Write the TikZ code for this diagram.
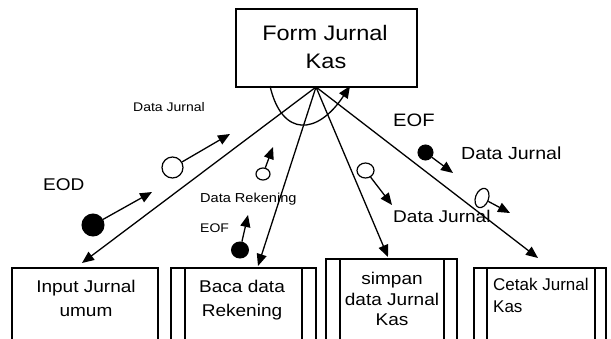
\documentclass[tikz,border=0pt]{standalone}
\usepackage{fontspec}
\setmainfont{Liberation Sans}
\newfontfamily\wfont[FakeStretch=1.12]{Liberation Sans}
\newfontfamily\nfont{Liberation Sans}
\usetikzlibrary{arrows.meta,shapes.geometric,calc}
\begin{document}
\begin{tikzpicture}[x=1pt,y=-1pt,
  box/.style={draw,line width=1.5pt,inner sep=0pt,outer sep=0pt},
  conn/.style={line width=1.3pt,-{Triangle[length=12pt,width=10pt]}},
  cpl/.style={line width=1.3pt,-{Triangle[length=12pt,width=10pt]}},
  opencpl/.style={ellipse,draw,line width=1.2pt,fill=white,inner sep=0pt},
  fullcpl/.style={ellipse,draw,fill=black,line width=1pt,inner sep=0pt},
  lbl/.style={anchor=base,inner sep=0pt},
  lblw/.style={anchor=base west,inner sep=0pt}]
\useasboundingbox (0,0) rectangle (611,338);
\clip (0,0) rectangle (611,338);
% boxes
\node[box,minimum width=181pt,minimum height=78pt] (form) at (326.5,48) {};
\node[box,anchor=north west,minimum width=146pt,minimum height=90pt] (inp) at (12,268) {};
\node[box,anchor=north west,minimum width=145pt,minimum height=90pt] (baca) at (171,268) {};
\node[box,anchor=north west,minimum width=131pt,minimum height=100pt] (simp) at (326,259) {};
\node[box,anchor=north west,minimum width=132pt,minimum height=90pt] (cetak) at (474,268) {};
\draw[line width=1.5pt] ($(baca.north west)+(14,0)$) -- ($(baca.south west)+(14,0)$);
\draw[line width=1.5pt] ($(baca.north east)+(-14,0)$) -- ($(baca.south east)+(-14,0)$);
\draw[line width=1.5pt] ($(simp.north west)+(14,0)$) -- ($(simp.south west)+(14,0)$);
\draw[line width=1.5pt] ($(simp.north east)+(-13,0)$) -- ($(simp.south east)+(-13,0)$);
\draw[line width=1.5pt] ($(cetak.north west)+(13,0)$) -- ($(cetak.south west)+(13,0)$);
\draw[line width=1.5pt] ($(cetak.north east)+(-11,0)$) -- ($(cetak.south east)+(-11,0)$);
% texts in boxes
\node[lbl,font=\wfont\fontsize{21}{25}\selectfont] (t1) at (325,40) {Form Jurnal};
\node[lbl,font=\wfont\fontsize{21}{25}\selectfont] (t2) at (326,68) {Kas};
\node[lbl,font=\wfont\fontsize{17}{20}\selectfont] (t3) at (86,292) {Input Jurnal};
\node[lbl,font=\wfont\fontsize{17}{20}\selectfont] (t4) at (86,316) {umum};
\node[lbl,font=\wfont\fontsize{17}{20}\selectfont] (t5) at (242,292) {Baca data};
\node[lbl,font=\wfont\fontsize{17}{20}\selectfont] (t6) at (242,316) {Rekening};
\node[lbl,font=\wfont\fontsize{17}{20}\selectfont] (t7) at (392,284) {simpan};
\node[lbl,font=\wfont\fontsize{17}{20}\selectfont] (t8) at (392,305) {data Jurnal};
\node[lbl,font=\wfont\fontsize{17}{20}\selectfont] (t9) at (392,325) {Kas};
\node[lblw,font=\nfont\fontsize{17}{20}\selectfont] (t10) at (493,290) {Cetak Jurnal};
\node[lblw,font=\nfont\fontsize{17}{20}\selectfont] (t11) at (493,312) {Kas};
% hub and main connectors
\coordinate (hub) at ($(form.south)+(-10.5,0)$);
\coordinate (tinp) at (82,263);
\coordinate (tbaca) at (258,266);
\coordinate (tsimp) at (388,257);
\coordinate (tcetak) at (538,258);
\draw[conn] (hub) -- (tinp);
\draw[conn] (hub) -- (tbaca);
\draw[conn] (hub) -- (tsimp);
\draw[conn] (hub) -- (tcetak);
% iteration loop
\coordinate (ls) at (270,86);
\coordinate (le) at (350,86);
\draw[conn] (ls) .. controls (282,138) and (318,135) .. (le);
% couples
\node[opencpl,minimum width=21pt,minimum height=21pt] (c1) at (172.5,167.5) {};
\coordinate (a1) at (230,134);
\draw[cpl] (c1) -- (a1);
\node[fullcpl,minimum width=22pt,minimum height=22pt] (c2) at (93,225) {};
\coordinate (a2) at (152,192);
\draw[cpl] (c2) -- (a2);
\node[opencpl,minimum width=14pt,minimum height=12pt] (c3) at (263,174) {};
\coordinate (a3) at (273,147);
\draw[cpl] (c3) -- (a3);
\node[fullcpl,minimum width=17pt,minimum height=16pt] (c4) at (240,250) {};
\coordinate (a4) at (248,215);
\draw[cpl] (c4) -- (a4);
\node[fullcpl,minimum width=15pt,minimum height=15pt] (c5) at (425.5,152.5) {};
\coordinate (a5) at (453,173);
\draw[cpl] (c5) -- (a5);
\node[opencpl,minimum width=17pt,minimum height=15pt] (c6) at (365.5,170.5) {};
\coordinate (a6) at (392,205);
\draw[cpl] (c6) -- (a6);
\node[opencpl,minimum width=13pt,minimum height=20pt,rotate=-20] (c7) at (482,198) {};
\coordinate (a7) at (510,213);
\draw[cpl] (c7) -- (a7);
% couple labels
\node[lblw,font=\wfont\fontsize{12.5}{15}\selectfont] (l1) at (133,111) {Data Jurnal};
\node[lblw,font=\wfont\fontsize{17}{20}\selectfont] (l2) at (43,190) {EOD};
\node[lblw,font=\wfont\fontsize{13}{15}\selectfont] (l3) at (200,202) {Data Rekening};
\node[lblw,font=\wfont\fontsize{12.5}{15}\selectfont] (l4) at (200,232) {EOF};
\node[lblw,font=\wfont\fontsize{18}{20}\selectfont] (l5) at (393,126) {EOF};
\node[lblw,font=\wfont\fontsize{17.5}{20}\selectfont] (l6) at (461,159) {Data Jurnal};
\node[lblw,font=\wfont\fontsize{17}{20}\selectfont] (l7) at (393,222) {Data Jurnal};
\end{tikzpicture}
\end{document}
